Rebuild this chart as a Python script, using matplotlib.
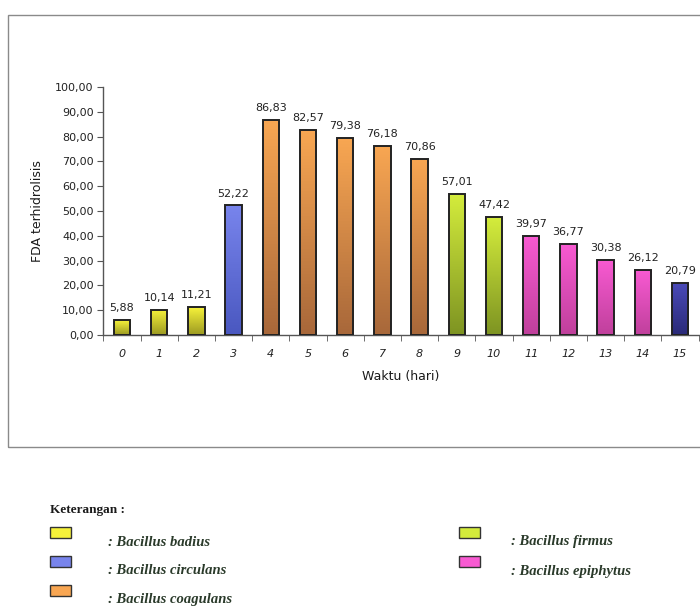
import numpy as np
import matplotlib.pyplot as plt
from matplotlib.colors import LinearSegmentedColormap
from matplotlib.patches import Rectangle

# FDA hydrolysis per day
days = ['0', '1', '2', '3', '4', '5', '6', '7', '8', '9', '10', '11', '12', '13', '14', '15']
fda = [5.88, 10.14, 11.21, 52.22, 86.83, 82.57, 79.38, 76.18, 70.86,
       57.01, 47.42, 39.97, 36.77, 30.38, 26.12, 20.79]
species = ['badius', 'badius', 'badius', 'circulans', 'coagulans', 'coagulans',
           'coagulans', 'coagulans', 'coagulans', 'firmus', 'firmus',
           'epiphytus', 'epiphytus', 'epiphytus', 'epiphytus', 'circulans2']

# (top colour, bottom colour) for the gradient fill
shades = {
    'badius': ('#f6f23a', '#9c9a22'),
    'circulans': ('#7884ec', '#4a58c0'),
    'coagulans': ('#f8a652', '#a8683a'),
    'firmus': ('#d4ec3c', '#7e9422'),
    'epiphytus': ('#f85ad2', '#c0409c'),
    'circulans2': ('#4a4ab8', '#2a2a78'),
}

legend_left = [('badius', ': Bacillus badius'),
               ('circulans', ': Bacillus circulans'),
               ('coagulans', ': Bacillus coagulans')]
legend_right = [('firmus', ': Bacillus firmus'),
                ('epiphytus', ': Bacillus epiphytus')]

fig = plt.figure(figsize=(7, 6.11), dpi=100)
W, H = 700, 611

# chart frame
fig.patches.append(Rectangle((8 / W, 1 - 447 / H), 1.2, (447 - 15) / H,
                             transform=fig.transFigure, fill=False,
                             edgecolor='#8a8a8a', linewidth=1.0))

ax = fig.add_axes([103.4 / W, 1 - 335 / H, 595.2 / W, 248 / H])
x = np.arange(len(days))
bars = ax.bar(x, fda, width=0.44, color='none', edgecolor='#222222', linewidth=1.4, zorder=3)

for b, sp in zip(bars, species):
    top, bottom = shades[sp]
    cmap = LinearSegmentedColormap.from_list(sp, [bottom, top])
    grad = np.linspace(0, 1, 64).reshape(-1, 1)
    x0, y0 = b.get_x(), b.get_y()
    im = ax.imshow(grad, cmap=cmap, origin='lower', aspect='auto',
                   extent=(x0, x0 + b.get_width(), y0, y0 + b.get_height()), zorder=2)
    im.set_clip_path(b)

for xi, v in zip(x, fda):
    ax.annotate(f'{v:.2f}'.replace('.', ','), (xi, v), xytext=(0, 5),
                textcoords='offset points', ha='center', va='bottom',
                fontsize=8, color='#222222')

ax.set_xlim(-0.5, len(days) - 0.5)
ax.set_ylim(0, 100)
ax.set_yticks(np.arange(0, 101, 10))
ax.set_yticklabels([f'{t:.2f}'.replace('.', ',') for t in np.arange(0, 101, 10)],
                   fontsize=8, color='#222222')
ax.set_xticks(x)
ax.set_xticklabels(days, fontsize=8, style='italic', color='#222222')
ax.set_xticks(np.arange(-0.5, len(days)), minor=True)
ax.tick_params(axis='x', which='major', length=0, pad=10)
ax.tick_params(axis='x', which='minor', length=4, direction='out', color='#555555')
ax.tick_params(axis='y', length=4, direction='out', color='#555555', pad=3)

for s in ['top', 'right']:
    ax.spines[s].set_visible(False)
for s in ['left', 'bottom']:
    ax.spines[s].set_color('#555555')
    ax.spines[s].set_linewidth(1.0)

ax.set_xlabel('Waktu (hari)', fontsize=9, color='#1a1a1a', labelpad=8)
ax.set_ylabel('FDA terhidrolisis', fontsize=9, color='#1a1a1a', labelpad=8)
ax.patch.set_alpha(0)

# legend below the chart
serif = 'Liberation Serif'
fig.text(50 / W, 1 - 510 / H, 'Keterangan :', fontsize=9.5, fontweight='bold',
         family=serif, va='center', color='#1a1a1a')


def legend_item(px, tx, py, key, label):
    top, bottom = shades[key]
    fig.patches.append(Rectangle((px / W, 1 - (py + 5) / H), 21 / W, 11 / H,
                                 transform=fig.transFigure, facecolor=top,
                                 edgecolor='#333333', linewidth=1.0))
    fig.text(tx / W, 1 - (py + 9) / H, label, fontsize=10.5, fontweight='bold',
             style='italic', family=serif, va='center', color='#2a3a2a')


for i, (key, label) in enumerate(legend_left):
    legend_item(50, 108, 533 + i * 29, key, label)
for i, (key, label) in enumerate(legend_right):
    legend_item(459, 511, 533 + i * 29, key, label)

fig.savefig('out.png', dpi=100)
